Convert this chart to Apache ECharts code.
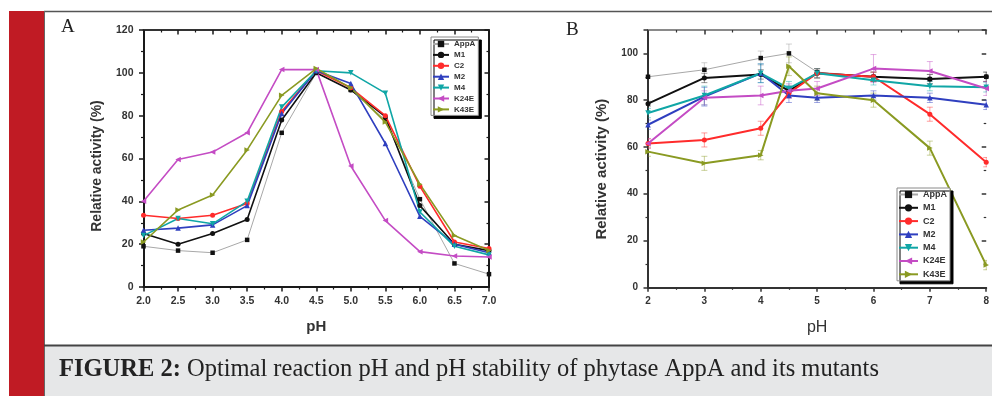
<!DOCTYPE html>
<html>
<head>
<meta charset="utf-8">
<script src="https://cdn.jsdelivr.net/npm/echarts@6/dist/echarts.min.js"></script>
<style>html,body{margin:0;padding:0;background:#fff;}#c{width:992px;height:396px;}</style>
</head>
<body>
<div id="c"></div>
<script>
// ---------- data ----------
const seriesNames = ['AppA', 'M1', 'C2', 'M2', 'M4', 'K24E', 'K43E'];

// Panel A: optimal reaction pH
const phA = [2.0, 2.5, 3.0, 3.5, 4.0, 4.5, 5.0, 5.5, 6.0, 6.5, 7.0];
const A_AppA = [19, 17, 16, 22, 72, 100, 92, 78, 41, 11, 6];
const A_M1   = [25, 20, 25, 31.5, 78, 100, 92, 79.5, 38, 20, 17];
const A_C2   = [33.5, 32, 33.5, 39, 82, 101, 93, 80, 47, 21, 18];
const A_M2   = [26.5, 27.5, 29, 38, 81, 101, 95, 67, 33, 20, 16];
const A_M4   = [24, 32, 29.5, 40, 84, 101, 100, 90.5, 35, 19, 15];
const A_K24E = [40, 59.5, 63, 72, 101.5, 101.5, 56.5, 31, 16.5, 14.5, 14];
const A_K43E = [21, 36, 43, 64, 89.5, 102, 93, 77, 48, 24, 17];

// Panel B: pH stability
const phB = [2, 3, 4, 4.5, 5, 6, 7, 8];
const B_AppA = [90, 93, 98, 100, 92, 90, 89, 90];
const B_M1   = [78.5, 89.5, 91, 84, 91.5, 90, 89, 90];
const B_C2   = [61.5, 63, 68, 83, 91.5, 90, 74, 53.5];
const B_M2   = [69.5, 81.5, 91.5, 82, 81, 82, 81, 78];
const B_M4   = [74.5, 82, 91.5, 85, 91.5, 88.5, 86, 85.5];
const B_K24E = [61.5, 81, 82, 84, 85, 93.5, 92.5, 85];
const B_K43E = [58, 53, 56.5, 94.5, 83, 80, 59.5, 9.5];
// error (+/-) for panel B
const E_AppA = [0, 3, 3, 4, 0, 2, 2, 2];
const E_M1   = [1, 2, 2, 2, 2, 2, 2, 2];
const E_C2   = [2, 3, 3, 2, 2, 2, 3, 2];
const E_M2   = [2, 4, 4, 3, 2, 2, 2, 2];
const E_M4   = [2, 4, 4, 3, 2, 2, 2, 2];
const E_K24E = [2, 3, 4, 3, 3, 6, 4, 3];
const E_K43E = [2, 3, 2, 4, 3, 3, 3, 2];

const captionBold = 'FIGURE 2:';
const captionText = ' Optimal reaction pH and pH stability of phytase AppA and its mutants';

// ---------- styles ----------
const styles = {
  AppA: {color: '#111', line: '#a8a8a8', lw: 1, symbol: 'rect', rot: 0, size: 4.5},
  M1:   {color: '#111', line: '#111', lw: 1.6, symbol: 'circle', rot: 0, size: 5},
  C2:   {color: '#ff2b2b', line: '#ff2b2b', lw: 1.6, symbol: 'circle', rot: 0, size: 5},
  M2:   {color: '#2f3fbf', line: '#2f3fbf', lw: 1.6, symbol: 'triangle', rot: 0, size: 5.5},
  M4:   {color: '#10a6a6', line: '#10a6a6', lw: 1.6, symbol: 'triangle', rot: 180, size: 5.5},
  K24E: {color: '#c44cc4', line: '#c44cc4', lw: 1.6, symbol: 'triangle', rot: 90, size: 5.5},
  K43E: {color: '#8a9a22', line: '#8a9a22', lw: 1.6, symbol: 'triangle', rot: -90, size: 5.5}
};
const dataA = {AppA: A_AppA, M1: A_M1, C2: A_C2, M2: A_M2, M4: A_M4, K24E: A_K24E, K43E: A_K43E};
const dataB = {AppA: B_AppA, M1: B_M1, C2: B_C2, M2: B_M2, M4: B_M4, K24E: B_K24E, K43E: B_K43E};
const errB  = {AppA: E_AppA, M1: E_M1, C2: E_C2, M2: E_M2, M4: E_M4, K24E: E_K24E, K43E: E_K43E};

const FONT = 'Liberation Sans, Arial, sans-serif';
const SERIF = 'Liberation Serif, Times New Roman, serif';

function pairs(xs, ys) { return xs.map((x, i) => [x, ys[i]]); }

function axisCommon(color, lw) {
  return {
    axisLine: {show: true, onZero: false, lineStyle: {color: color, width: lw}},
    splitLine: {show: false}
  };
}

function xAxes(grid, min, max, interval, fmt, labelSize, name, nameSize, nameBold, color, topColor) {
  return [
    Object.assign(axisCommon(color, 2), {
      gridIndex: grid, type: 'value', min: min, max: max, interval: interval, position: 'bottom',
      axisTick: {show: true, length: 4.5, lineStyle: {color: color, width: 1.5}},
      minorTick: {show: true, splitNumber: 2, length: 2.5, lineStyle: {color: color, width: 1.2}},
      axisLabel: {formatter: fmt, fontSize: labelSize, fontWeight: 'bold', color: '#333', margin: 9, fontFamily: FONT},
      name: name, nameLocation: 'middle', nameGap: 32,
      nameTextStyle: {fontSize: nameSize, fontWeight: nameBold ? 'bold' : 'normal', color: '#333', fontFamily: FONT}
    }),
    Object.assign(axisCommon(topColor, 2), {
      gridIndex: grid, type: 'value', min: min, max: max, interval: interval, position: 'top',
      axisTick: {show: true, inside: true, length: 4.5, lineStyle: {color: color, width: 1.5}},
      minorTick: {show: true, splitNumber: 2, length: 2.5, lineStyle: {color: color, width: 1.2}},
      axisLabel: {show: false}
    })
  ];
}

function yAxes(grid, max, labelSize, nameSize, nameGap, namePad, color, rightLine, showMax) {
  return [
    Object.assign(axisCommon(color, 2), {
      gridIndex: grid, type: 'value', min: 0, max: max, interval: 20, position: 'left',
      axisTick: {show: true, length: 4.5, lineStyle: {color: color, width: 1.5}},
      minorTick: {show: true, splitNumber: 2, length: 2.5, lineStyle: {color: color, width: 1.2}},
      axisLabel: {fontSize: labelSize, fontWeight: 'bold', color: '#333', margin: 10, fontFamily: FONT, showMaxLabel: showMax},
      name: 'Relative activity (%)', nameLocation: 'middle', nameGap: nameGap, nameRotate: 90,
      nameTextStyle: {fontSize: nameSize, fontWeight: 'bold', color: '#333', fontFamily: FONT, padding: [0, namePad, 0, 0]}
    }),
    Object.assign(axisCommon(color, 2), {
      gridIndex: grid, type: 'value', min: 0, max: max, interval: 20, position: 'right',
      axisLine: {show: rightLine, lineStyle: {color: color, width: 2}},
      axisTick: {show: true, inside: true, length: 4.5, lineStyle: {color: color, width: 1.5}},
      minorTick: {show: true, splitNumber: 2, length: 2.5, lineStyle: {color: color, width: 1.2}},
      axisLabel: {show: false}
    })
  ];
}

const series = [];
seriesNames.forEach(n => {
  const s = styles[n];
  series.push({
    name: n, type: 'line', xAxisIndex: 0, yAxisIndex: 0,
    data: pairs(phA, dataA[n]),
    symbol: s.symbol, symbolRotate: s.rot, symbolSize: s.size, showAllSymbol: true,
    lineStyle: {color: s.line, width: s.lw},
    itemStyle: {color: s.color},
    z: n === 'AppA' ? 2 : 3
  });
});
seriesNames.forEach(n => {
  const s = styles[n];
  const ys = dataB[n], es = errB[n];
  series.push({
    name: n, type: 'custom', xAxisIndex: 2, yAxisIndex: 2, silent: true,
    data: phB.map((x, i) => [x, ys[i] - es[i], ys[i] + es[i]]),
    renderItem: function (params, api) {
      const lo = api.coord([api.value(0), api.value(1)]);
      const hi = api.coord([api.value(0), api.value(2)]);
      const w = 3;
      const st = {stroke: s.line === '#a8a8a8' ? '#999' : s.line, lineWidth: 1, opacity: 0.45};
      return {type: 'group', children: [
        {type: 'line', shape: {x1: lo[0], y1: lo[1], x2: hi[0], y2: hi[1]}, style: st},
        {type: 'line', shape: {x1: lo[0] - w, y1: lo[1], x2: lo[0] + w, y2: lo[1]}, style: st},
        {type: 'line', shape: {x1: hi[0] - w, y1: hi[1], x2: hi[0] + w, y2: hi[1]}, style: st}
      ]};
    },
    clip: true, z: 1
  });
  series.push({
    name: n, type: 'line', xAxisIndex: 2, yAxisIndex: 2,
    data: pairs(phB, ys),
    symbol: s.symbol, symbolRotate: s.rot, symbolSize: s.size, showAllSymbol: true,
    lineStyle: {color: s.line, width: n === 'AppA' ? 1 : 2},
    itemStyle: {color: s.color},
    clip: true,
    z: n === 'AppA' ? 2 : 3
  });
});

const legendBase = {
  orient: 'vertical', backgroundColor: '#fff', borderColor: '#8a8a8a', borderWidth: 1,
  shadowColor: '#000', shadowOffsetX: 3, shadowOffsetY: 3, shadowBlur: 0,
  data: seriesNames, selectedMode: false
};

const option = {
  animation: false,
  backgroundColor: '#ffffff',
  grid: [
    {left: 143.5, top: 30, width: 345.5, height: 257},
    {left: 648, top: 30, width: 344, height: 257.3}
  ],
  xAxis: [].concat(
    xAxes(0, 2, 7, 0.5, v => v.toFixed(1), 10.5, 'pH', 15, true, '#1a1a1a', '#333'),
    xAxes(1, 2, 8, 1, v => String(v), 10, 'pH', 16, false, '#333', '#8a8a8a')
  ),
  yAxis: [].concat(
    yAxes(0, 120, 10.5, 14, 39, 15, '#1a1a1a', true, true),
    yAxes(1, 110, 10, 15, 39, 21, '#333', false, false)
  ),
  legend: [
    Object.assign({}, legendBase, {
      left: 431, top: 37, itemWidth: 16, itemHeight: 8, itemGap: 2.9, padding: [3, 3, 2, 1],
      textStyle: {fontSize: 8, fontWeight: 'bold', color: '#333', fontFamily: FONT, lineHeight: 8}
    }),
    Object.assign({}, legendBase, {
      left: 897, top: 188, itemWidth: 19, itemHeight: 9, itemGap: 4.3, padding: [2, 3, 2, 1],
      textStyle: {fontSize: 9, fontWeight: 'bold', color: '#333', fontFamily: FONT, lineHeight: 9}
    })
  ],
  graphic: [
    {type: 'rect', shape: {x: 9, y: 11, width: 35, height: 385}, style: {fill: '#c01b24'}, z: 100},
    {type: 'line', shape: {x1: 44, y1: 11.5, x2: 992, y2: 11.5}, style: {stroke: '#555', lineWidth: 1.5}, z: 100},
    {type: 'line', shape: {x1: 44.5, y1: 11, x2: 44.5, y2: 396}, style: {stroke: '#666', lineWidth: 1}, z: 100},
    {type: 'rect', shape: {x: 45, y: 346, width: 947, height: 50}, style: {fill: '#e6e7e8'}, z: 100},
    {type: 'line', shape: {x1: 44, y1: 345.5, x2: 992, y2: 345.5}, style: {stroke: '#444', lineWidth: 2}, z: 100},
    {type: 'text', left: 59, top: 357.5, z: 101, style: {
      text: '{b|' + captionBold + '}' + captionText,
      font: '24.5px ' + SERIF, fill: '#222',
      rich: {b: {fontWeight: 'bold', fontSize: 24.5, fontFamily: SERIF, fill: '#222'}}
    }},
    {type: 'text', left: 61, top: 18, z: 101, style: {text: 'A', font: '19px ' + SERIF, fill: '#222'}},
    {type: 'text', left: 566, top: 21, z: 101, style: {text: 'B', font: '19px ' + SERIF, fill: '#222'}}
  ],
  series: series
};

const chart = echarts.init(document.getElementById('c'), null, {renderer: 'canvas'});
chart.setOption(option);
</script>
</body>
</html>
